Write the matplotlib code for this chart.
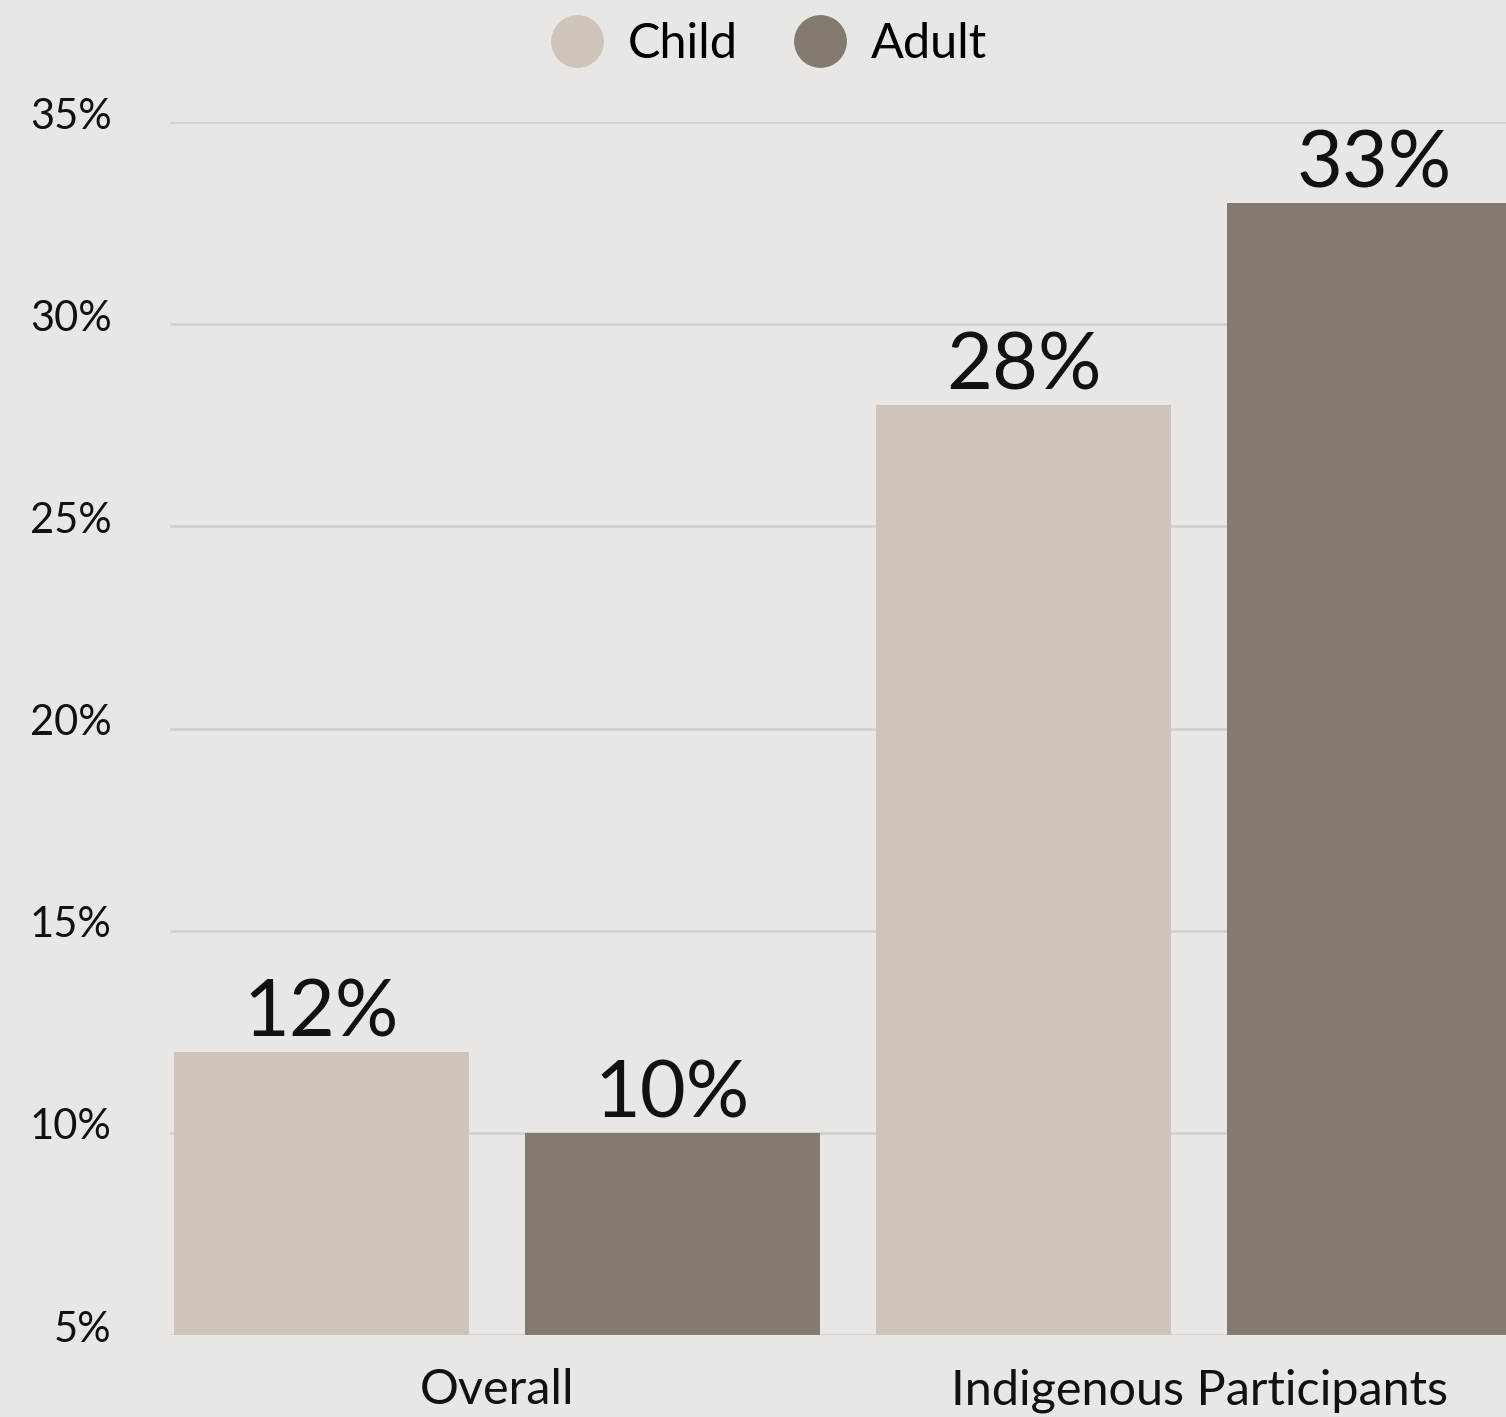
import matplotlib
matplotlib.use("Agg")
import matplotlib.pyplot as plt
import matplotlib.transforms as mtransforms
from matplotlib.lines import Line2D

plt.rcParams['font.family'] = ['Lato', 'DejaVu Sans']

# data
groups = ['Overall', 'Indigenous Participants']
series = ['Child', 'Adult']
child_vals = [12, 28]
adult_vals = [10, 33]
yticks = [5, 10, 15, 20, 25, 30, 35]

bg = '#e9e7e5'
colors = {'Child': '#cfc4ba', 'Adult': '#837a70'}

fig = plt.figure(figsize=(15.06, 14.17), dpi=100, facecolor=bg)
ax = fig.add_axes([170 / 1506, 1 - 1335 / 1417, 1 - 170 / 1506, (1335 - 122) / 1417])
ax.set_facecolor(bg)

# bars: child/adult alternating, evenly spaced
pos_child = [0, 2]
pos_adult = [1, 3]
width = 0.84
b1 = ax.bar(pos_child, child_vals, width=width, bottom=0, color=colors['Child'], zorder=3)
b2 = ax.bar(pos_adult, adult_vals, width=width, bottom=0, color=colors['Adult'], zorder=3)

for bars, vals in [(b1, child_vals), (b2, adult_vals)]:
    for rect, v in zip(bars, vals):
        ax.annotate(f'{v}%', (rect.get_x() + rect.get_width() / 2, v),
                    xytext=(0, 1), textcoords='offset points',
                    ha='center', va='bottom', fontsize=57, color='#111111')

ax.set_ylim(5, 35)
ax.set_xlim(-0.4316, 3.3746)
ax.set_yticks(yticks)
ax.set_yticklabels([f'{t}%' for t in yticks])
ax.yaxis.grid(True, color='#d3d1cf', linewidth=2, zorder=0)
ax.tick_params(axis='y', length=0, pad=42, labelsize=30, labelcolor='#111111')
for lab in ax.get_yticklabels():
    lab.set_transform(lab.get_transform() + mtransforms.ScaledTranslation(0, 0.09, fig.dpi_scale_trans))

ax.set_xticks([0.5, 2.5])
ax.set_xticklabels(groups)
ax.tick_params(axis='x', length=0, pad=24, labelsize=35, labelcolor='#111111')

for s in ax.spines.values():
    s.set_visible(False)

handles = [Line2D([], [], marker='o', linestyle='', markersize=37,
                  markerfacecolor=colors[s], markeredgecolor=colors[s]) for s in series]
fig.legend(handles, series, loc='center', bbox_to_anchor=(770 / 1506, 1 - 44 / 1417),
           ncol=2, frameon=False, fontsize=35, handletextpad=0.55, columnspacing=1.19,
           handlelength=1.0)

fig.savefig('out.png', dpi=100, facecolor=bg)
